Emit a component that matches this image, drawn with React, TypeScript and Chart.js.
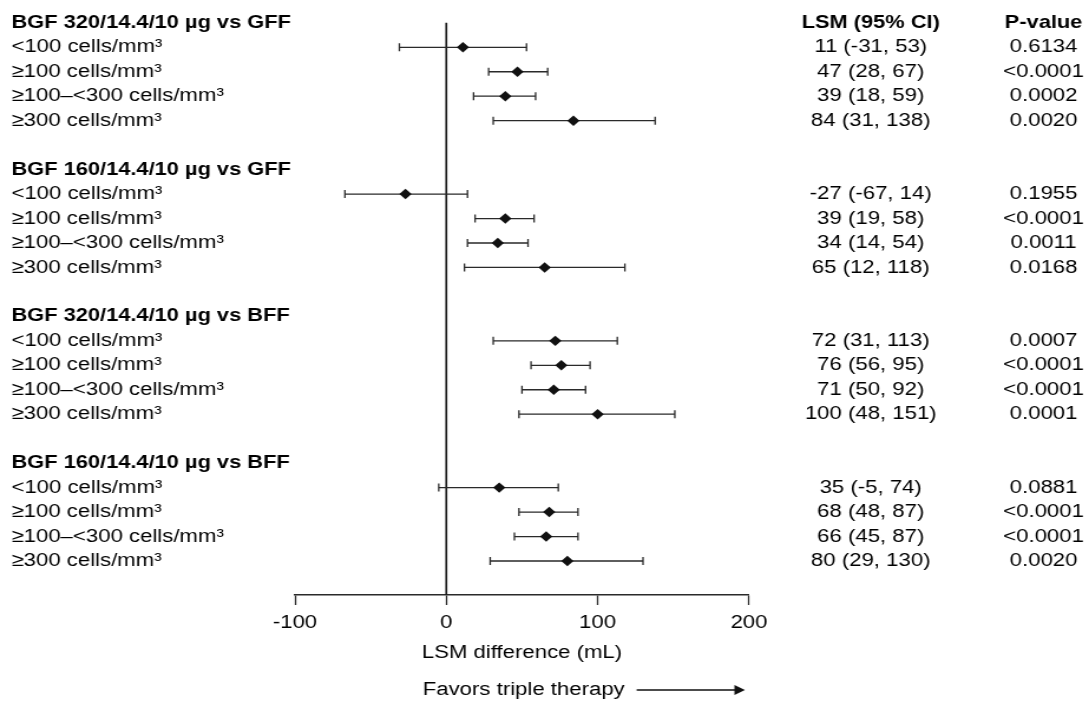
import React, { useEffect, useRef } from "react";
import { Chart, registerables } from "chart.js";

Chart.register(...registerables);

const groupTitles = [
  "BGF 320/14.4/10 µg vs GFF",
  "BGF 160/14.4/10 µg vs GFF",
  "BGF 320/14.4/10 µg vs BFF",
  "BGF 160/14.4/10 µg vs BFF",
];
const subgroups = ["<100 cells/mm³", "≥100 cells/mm³", "≥100–<300 cells/mm³", "≥300 cells/mm³"];
const lsm = [11, 47, 39, 84, -27, 39, 34, 65, 72, 76, 71, 100, 35, 68, 66, 80];
const lower = [-31, 28, 18, 31, -67, 19, 14, 12, 31, 56, 50, 48, -5, 48, 45, 29];
const upper = [53, 67, 59, 138, 14, 58, 54, 118, 113, 95, 92, 151, 74, 87, 87, 130];
const pValues = [
  "0.6134", "<0.0001", "0.0002", "0.0020",
  "0.1955", "<0.0001", "0.0011", "0.0168",
  "0.0007", "<0.0001", "<0.0001", "0.0001",
  "0.0881", "<0.0001", "<0.0001", "0.0020",
];
const xTicks = [-100, 0, 100, 200];
const xTitle = "LSM difference (mL)";
const favorsText = "Favors triple therapy";
const colHeaders = ["LSM (95% CI)", "P-value"];

const FONT = '"Liberation Sans", Arial, Helvetica, sans-serif';
const LOGICAL_W = 923;
const H = 704;
const SCALE_X = 1089 / LOGICAL_W;
const REG = 18.8;
const BOLD = 18.5;

const rowOf = (j: number) => Math.floor(j / 4) * 6 + 1 + (j % 4);

export default function App() {
  const ref = useRef<HTMLCanvasElement | null>(null);

  useEffect(() => {
    document.body.style.margin = "0";
    const canvas = ref.current;
    if (!canvas) return;

    const points = lsm.map((v, j) => ({ x: v, y: rowOf(j) }));

    const forestPlugin = {
      id: "forest",
      beforeDatasetsDraw(chart: any) {
        const { ctx, scales, chartArea } = chart;
        const xs = scales.x;
        const ys = scales.y;
        ctx.save();
        ctx.strokeStyle = "#1a1a1a";
        ctx.lineWidth = 1.7;
        ctx.beginPath();
        const x0 = xs.getPixelForValue(0);
        ctx.moveTo(x0, ys.getPixelForValue(0));
        ctx.lineTo(x0, chartArea.bottom);
        ctx.stroke();
        ctx.strokeStyle = "#2a2a2a";
        ctx.lineWidth = 1.3;
        lsm.forEach((_, j) => {
          const y = ys.getPixelForValue(rowOf(j));
          const xl = xs.getPixelForValue(lower[j]);
          const xh = xs.getPixelForValue(upper[j]);
          ctx.beginPath();
          ctx.moveTo(xl, y);
          ctx.lineTo(xh, y);
          ctx.moveTo(xl, y - 4);
          ctx.lineTo(xl, y + 4);
          ctx.moveTo(xh, y - 4);
          ctx.lineTo(xh, y + 4);
          ctx.stroke();
        });
        ctx.restore();
      },
      afterDraw(chart: any) {
        const { ctx, scales } = chart;
        const ys = scales.y;
        ctx.save();
        ctx.fillStyle = "#000";
        ctx.textBaseline = "middle";
        const leftX = 9.7;
        const lsmX = 738;
        const pX = 884.5;
        ctx.font = `bold ${BOLD}px ${FONT}`;
        ctx.textAlign = "center";
        ctx.fillText(colHeaders[0], lsmX, ys.getPixelForValue(0));
        ctx.fillText(colHeaders[1], pX, ys.getPixelForValue(0));
        ctx.textAlign = "left";
        groupTitles.forEach((t, g) => {
          ctx.fillText(t, leftX, ys.getPixelForValue(g * 6));
        });
        ctx.font = `${REG}px ${FONT}`;
        lsm.forEach((v, j) => {
          const y = ys.getPixelForValue(rowOf(j));
          ctx.textAlign = "left";
          ctx.fillText(subgroups[j % 4], leftX, y);
          ctx.textAlign = "center";
          ctx.fillText(`${v} (${lower[j]}, ${upper[j]})`, lsmX, y);
          ctx.fillText(pValues[j], pX, y);
        });
        const fy = 690;
        ctx.textAlign = "left";
        ctx.fillText(favorsText, 358.3, fy);
        ctx.strokeStyle = "#111";
        ctx.lineWidth = 1.3;
        ctx.beginPath();
        ctx.moveTo(539.6, fy);
        ctx.lineTo(624, fy);
        ctx.stroke();
        ctx.fillStyle = "#111";
        ctx.beginPath();
        ctx.moveTo(631.4, fy);
        ctx.lineTo(622.5, fy - 5);
        ctx.lineTo(622.5, fy + 5);
        ctx.closePath();
        ctx.fill();
        ctx.restore();
      },
    };

    const chart = new Chart(canvas, {
      type: "scatter",
      data: {
        datasets: [
          {
            data: points,
            pointStyle: "rectRot",
            radius: 5.2,
            backgroundColor: "#111",
            borderColor: "#111",
            borderWidth: 0,
            clip: false as any,
          },
        ],
      },
      options: {
        animation: false,
        responsive: false,
        devicePixelRatio: 1,
        layout: { padding: { left: 250, right: 288.2, top: 10.6, bottom: 37 } },
        plugins: { legend: { display: false }, tooltip: { enabled: false } },
        scales: {
          x: {
            type: "linear",
            min: xTicks[0],
            max: xTicks[xTicks.length - 1],
            afterBuildTicks: (scale: any) => {
              scale.ticks = xTicks.map((v) => ({ value: v }));
            },
            afterFit: (scale: any) => {
              scale.height = 72;
            },
            grid: {
              drawOnChartArea: false,
              drawTicks: true,
              tickLength: 10,
              tickColor: "#2a2a2a",
              tickWidth: 1.3,
            },
            border: { display: true, color: "#2a2a2a", width: 1.5 },
            ticks: {
              color: "#000",
              font: { family: FONT, size: REG },
              padding: 6.4,
              maxRotation: 0,
            },
            title: {
              display: true,
              text: xTitle,
              color: "#000",
              font: { family: FONT, size: REG },
              padding: { top: 4, bottom: 3 },
            },
          },
          y: {
            type: "linear",
            reverse: true,
            min: -0.5,
            max: 23.39,
            display: false,
          },
        },
      },
      plugins: [forestPlugin],
    });

    return () => chart.destroy();
  }, []);

  return (
    <div style={{ width: 1089, height: H }}>
      <canvas
        ref={ref}
        width={LOGICAL_W}
        height={H}
        style={{ width: `${Math.round(LOGICAL_W * SCALE_X)}px`, height: `${H}px`, display: "block" }}
      />
    </div>
  );
}
